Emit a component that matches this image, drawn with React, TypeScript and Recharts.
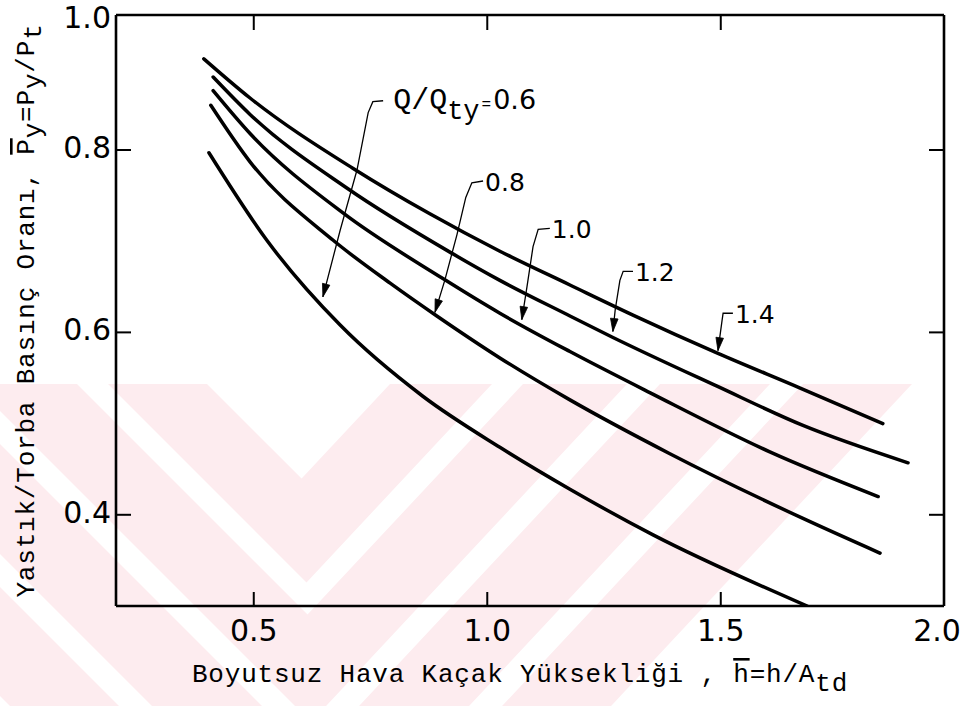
import React from 'react';
import { LineChart, Line, XAxis, YAxis } from 'recharts';

const X_MIN = 0.205;
const X_MAX = 1.978;
const Y_MIN = 0.3;
const Y_MAX = 0.948;

const xTicks = [0.5, 1.0, 1.5, X_MAX];
const xTickLabels = ['0.5', '1.0', '1.5', '2.0'];
const yTicks = [0.4, 0.6, 0.8, Y_MAX];
const yTickLabels = ['0.4', '0.6', '0.8', '1.0'];

const flowRatios = ['0.6', '0.8', '1.0', '1.2', '1.4'];

const h06 = [0.404, 0.528, 0.685, 0.862, 1.027, 1.177, 1.355, 1.685];
const p06 = [0.797, 0.701, 0.608, 0.53, 0.474, 0.428, 0.378, 0.3];
const h08 = [0.408, 0.492, 0.67, 0.792, 0.892, 1.027, 1.177, 1.391, 1.676, 1.841];
const p08 = [0.849, 0.787, 0.701, 0.654, 0.618, 0.572, 0.526, 0.467, 0.396, 0.358];
const h10 = [0.413, 0.492, 0.691, 0.905, 1.027, 1.177, 1.348, 1.605, 1.837];
const p10 = [0.865, 0.818, 0.731, 0.659, 0.621, 0.579, 0.534, 0.469, 0.42];
const h12 = [0.413, 0.492, 0.7, 0.92, 1.027, 1.177, 1.267, 1.492, 1.676, 1.901];
const p12 = [0.88, 0.839, 0.758, 0.688, 0.657, 0.618, 0.595, 0.541, 0.498, 0.457];
const h14 = [0.393, 0.492, 0.712, 0.877, 1.027, 1.177, 1.312, 1.494, 1.67, 1.847];
const p14 = [0.9, 0.857, 0.78, 0.73, 0.689, 0.652, 0.619, 0.577, 0.539, 0.5];

// leader lines of the curve labels (first point = label anchor, last point = arrow tip)
const lead06h = [0.777, 0.755, 0.745, 0.721, 0.685, 0.648];
const lead06p = [0.854, 0.853, 0.841, 0.778, 0.712, 0.639];
const lead08h = [0.991, 0.967, 0.954, 0.935, 0.909, 0.888];
const lead08p = [0.766, 0.764, 0.748, 0.707, 0.657, 0.622];
const lead10h = [1.134, 1.109, 1.098, 1.085, 1.074];
const lead10p = [0.714, 0.713, 0.694, 0.65, 0.614];
const lead12h = [1.312, 1.291, 1.284, 1.274, 1.269];
const lead12p = [0.667, 0.667, 0.657, 0.625, 0.601];
const lead14h = [1.526, 1.505, 1.503, 1.494];
const lead14p = [0.621, 0.621, 0.614, 0.58];

const toRows = (h: number[], p: number[]) => h.map((v, i) => ({ h: v, p: p[i] }));

const curves = [
  { name: flowRatios[0], data: toRows(h06, p06) },
  { name: flowRatios[1], data: toRows(h08, p08) },
  { name: flowRatios[2], data: toRows(h10, p10) },
  { name: flowRatios[3], data: toRows(h12, p12) },
  { name: flowRatios[4], data: toRows(h14, p14) },
];

const leaders = [
  { name: flowRatios[0], data: toRows(lead06h, lead06p) },
  { name: flowRatios[1], data: toRows(lead08h, lead08p) },
  { name: flowRatios[2], data: toRows(lead10h, lead10p) },
  { name: flowRatios[3], data: toRows(lead12h, lead12p) },
  { name: flowRatios[4], data: toRows(lead14h, lead14p) },
];

const SANS = 'DejaVu Sans';
const MONO = 'Liberation Mono';

const nearestIndex = (arr: number[], v: number) => {
  let best = 0;
  arr.forEach((a, i) => {
    if (Math.abs(a - v) < Math.abs(arr[best] - v)) best = i;
  });
  return best;
};

const BottomTick = (props: any) => {
  const { x, y, payload } = props;
  const i = nearestIndex(xTicks, payload.value);
  const edge = i === xTicks.length - 1;
  return (
    <g>
      {!edge && <line x1={x} y1={y} x2={x} y2={y - 14} stroke="#000" strokeWidth={2} />}
      <text x={edge ? x - 7 : x} y={y + 35} textAnchor="middle" fontFamily={SANS} fontSize={30} fill="#000">
        {xTickLabels[i]}
      </text>
    </g>
  );
};

const TopTick = (props: any) => {
  const { x, y } = props;
  return <line x1={x} y1={y} x2={x} y2={y + 15} stroke="#000" strokeWidth={2} />;
};

const LeftTick = (props: any) => {
  const { x, y, payload } = props;
  const i = nearestIndex(yTicks, payload.value);
  const edge = i === yTicks.length - 1;
  return (
    <g>
      {!edge && <line x1={x} y1={y} x2={x + 15} y2={y} stroke="#000" strokeWidth={2} />}
      <text x={x - 5} y={edge ? y + 13 : y + 8} textAnchor="end" fontFamily={SANS} fontSize={30} fill="#000">
        {yTickLabels[i]}
      </text>
    </g>
  );
};

const RightTick = (props: any) => {
  const { x, y } = props;
  return <line x1={x} y1={y} x2={x - 15} y2={y} stroke="#000" strokeWidth={2} />;
};

const XTitle = (props: any) => {
  const vb = props.viewBox || { x: 116, y: 606, width: 828 };
  return (
    <text x={vb.x + 404} y={vb.y + 76} textAnchor="middle" fontFamily={MONO} fontSize={26} letterSpacing={0.8} fill="#000">
      Boyutsuz Hava Kaçak Yüksekliği , <tspan style={{ textDecoration: 'overline' }}>h</tspan>=h/A
      <tspan dy={9}>td</tspan>
    </text>
  );
};

const YTitle = (props: any) => {
  const vb = props.viewBox || { x: 56, y: 15, height: 591 };
  const cx = vb.x - 22;
  const cy = vb.y + vb.height / 2;
  return (
    <text
      transform={`translate(${cx},${cy}) rotate(-90)`}
      x={0}
      y={0}
      textAnchor="middle"
      fontFamily={MONO}
      fontSize={26}
      letterSpacing={0.8}
      fill="#000"
    >
      Yastık/Torba Basınç Oranı, <tspan style={{ textDecoration: 'overline' }}>P</tspan>
      <tspan dy={7}>y</tspan>
      <tspan dy={-7}>=P</tspan>
      <tspan dy={7}>y</tspan>
      <tspan dy={-7}>/P</tspan>
      <tspan dy={7}>t</tspan>
    </text>
  );
};

const makeLeaderDot = (k: number) => (props: any) => {
  const { cx, cy, index, points } = props;
  const n = leaders[k].data.length;
  if (index === 0) {
    if (k === 0) {
      return (
        <text key={`lbl-${k}`} x={cx + 10} y={cy + 8} fontFamily={MONO} fontSize={30} fill="#000">
          Q/Q
          <tspan dy={10} fontSize={27}>ty</tspan>
          <tspan dy={-10} fontSize={16} dx={2}>=</tspan>
          <tspan fontFamily={SANS} fontSize={27} dx={2}>{leaders[k].name}</tspan>
        </text>
      );
    }
    return (
      <text key={`lbl-${k}`} x={cx + 2} y={cy + 10} fontFamily={SANS} fontSize={25} fill="#000">
        {leaders[k].name}
      </text>
    );
  }
  if (index === n - 1) {
    let ang = Math.PI / 2;
    if (points && points.length >= 2) {
      const a = points[points.length - 2];
      const b = points[points.length - 1];
      ang = Math.atan2(b.y - a.y, b.x - a.x);
    }
    const L = 13;
    const W = 3.8;
    const bx = cx - L * Math.cos(ang);
    const by = cy - L * Math.sin(ang);
    const px = -Math.sin(ang) * W;
    const py = Math.cos(ang) * W;
    return (
      <polygon
        key={`arr-${k}`}
        points={`${cx},${cy} ${bx + px},${by + py} ${bx - px},${by - py}`}
        fill="#000"
        stroke="#000"
        strokeWidth={0.8}
      />
    );
  }
  return <g key={`n-${k}-${index}`} />;
};

// background watermark of the scanned page (nested chevrons)
const PINK = '#fdecef';
const WM_TOP = 384;
const RIGHT_SLOPE = 1.07;

const apex = (xl: number, xr: number) => {
  const t = (xr - xl) / (1 + 1 / RIGHT_SLOPE);
  return [xl + t, WM_TOP + t];
};

const chevron = (xli: number, xri: number, xlo: number, xro: number) => {
  const [ai, bi] = apex(xli, xri);
  const [ao, bo] = apex(xlo, xro);
  return `${xlo},${WM_TOP} ${xli},${WM_TOP} ${ai},${bi} ${xri},${WM_TOP} ${xro},${WM_TOP} ${ao},${bo}`;
};

const triangle = (xl: number, xr: number) => {
  const [a, b] = apex(xl, xr);
  return `${xl},${WM_TOP} ${xr},${WM_TOP} ${a},${b}`;
};

const Watermark = () => (
  <svg width={963} height={706} style={{ position: 'absolute', left: 0, top: 0 }}>
    <polygon points={triangle(-312, 912)} fill={PINK} />
    <polygon points={triangle(207, 390)} fill="#fff" />
    <polygon points={chevron(108, 492, 77, 523)} fill="#fff" />
    <polygon points={chevron(-27, 627, -60, 660)} fill="#fff" />
    <polygon points={chevron(-170, 770, -203, 803)} fill="#fff" />
  </svg>
);

export default function App() {
  return (
    <div style={{ position: 'absolute', left: 0, top: 0, width: 963, height: 706, background: '#fff', overflow: 'hidden' }}>
      <Watermark />
      <div style={{ position: 'absolute', left: 0, top: 0 }}>
        <LineChart width={963} height={706} margin={{ top: 5, right: 9, bottom: 50, left: 56 }}>
          <XAxis
            xAxisId="b"
            type="number"
            dataKey="h"
            orientation="bottom"
            domain={[X_MIN, X_MAX]}
            allowDataOverflow
            ticks={xTicks}
            interval={0}
            height={50}
            tickSize={0}
            tickMargin={0}
            tickLine={false}
            tick={<BottomTick />}
            axisLine={{ stroke: '#000', strokeWidth: 2.6 }}
            label={<XTitle />}
          />
          <XAxis
            xAxisId="t"
            type="number"
            dataKey="h"
            orientation="top"
            domain={[X_MIN, X_MAX]}
            allowDataOverflow
            ticks={xTicks.slice(0, 3)}
            interval={0}
            height={10}
            tickSize={0}
            tickMargin={0}
            tickLine={false}
            tick={<TopTick />}
            axisLine={{ stroke: '#000', strokeWidth: 2.6 }}
          />
          <YAxis
            yAxisId="l"
            type="number"
            orientation="left"
            domain={[Y_MIN, Y_MAX]}
            allowDataOverflow
            ticks={yTicks}
            interval={0}
            width={60}
            tickSize={0}
            tickMargin={0}
            tickLine={false}
            tick={<LeftTick />}
            axisLine={{ stroke: '#000', strokeWidth: 2.6 }}
            label={<YTitle />}
          />
          <YAxis
            yAxisId="r"
            type="number"
            orientation="right"
            domain={[Y_MIN, Y_MAX]}
            allowDataOverflow
            ticks={yTicks.slice(0, 3)}
            interval={0}
            width={10}
            tickSize={0}
            tickMargin={0}
            tickLine={false}
            tick={<RightTick />}
            axisLine={{ stroke: '#000', strokeWidth: 2.6 }}
          />
          {curves.map((c) => (
            <Line
              key={`c-${c.name}`}
              xAxisId="b"
              yAxisId="l"
              data={c.data}
              dataKey="p"
              name={c.name}
              type="monotone"
              stroke="#000"
              strokeWidth={3.5}
              strokeLinecap="round"
              dot={false}
              activeDot={false}
              isAnimationActive={false}
            />
          ))}
          {leaders.map((l, k) => (
            <Line
              key={`l-${l.name}`}
              xAxisId="b"
              yAxisId="l"
              data={l.data}
              dataKey="p"
              type="linear"
              stroke="#000"
              strokeWidth={1.3}
              dot={makeLeaderDot(k)}
              activeDot={false}
              legendType="none"
              isAnimationActive={false}
            />
          ))}
        </LineChart>
      </div>
    </div>
  );
}
